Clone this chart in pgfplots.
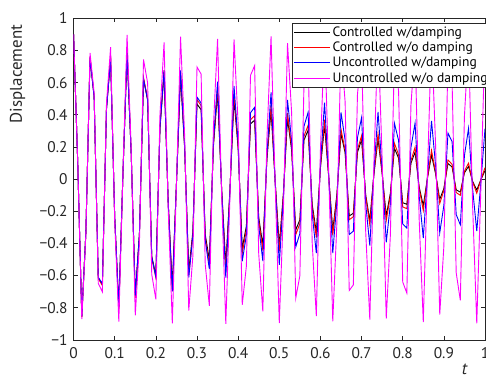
\documentclass[border=0pt]{standalone}
\usepackage{pgfplots}
\pgfplotsset{compat=1.18}
\usepackage{pgfplotstable}
\usepackage{fontspec}
\setmainfont{PT Sans}
\definecolor{axgray}{rgb}{0.15,0.15,0.15}
\definecolor{mag}{rgb}{1,0,1}
\definecolor{pred}{rgb}{1,0,0}
\definecolor{pblue}{rgb}{0,0,1}
\pgfplotstableread{
t M B R K
0.00 0.900 0.900 0.900 0.900
0.01 0.114 0.113 0.114 0.113
0.02 -0.871 -0.853 -0.857 -0.855
0.03 -0.336 -0.326 -0.328 -0.327
0.04 0.785 0.753 0.760 0.757
0.05 0.536 0.509 0.514 0.512
0.06 -0.649 -0.610 -0.618 -0.614
0.07 -0.701 -0.652 -0.662 -0.657
0.08 0.471 0.433 0.441 0.437
0.09 0.821 0.747 0.761 0.754
0.10 -0.262 -0.236 -0.241 -0.238
0.11 -0.887 -0.791 -0.808 -0.798
0.12 0.036 0.032 0.032 0.032
0.13 0.897 0.783 0.798 0.786
0.14 0.192 0.166 0.169 0.166
0.15 -0.848 -0.725 -0.738 -0.725
0.16 -0.408 -0.345 -0.351 -0.344
0.17 0.744 0.623 0.632 0.620
0.18 0.597 0.495 0.501 0.491
0.19 -0.592 -0.486 -0.492 -0.480
0.20 -0.748 -0.607 -0.613 -0.598
0.21 0.402 0.323 0.325 0.316
0.22 0.850 0.676 0.678 0.658
0.23 -0.186 -0.146 -0.146 -0.141
0.24 -0.897 -0.699 -0.696 -0.671
0.25 -0.042 -0.033 -0.032 -0.031
0.26 0.886 0.676 0.669 0.640
0.27 0.268 0.202 0.199 0.190
0.28 -0.818 -0.612 -0.599 -0.569
0.29 -0.476 -0.352 -0.343 -0.325
0.30 0.697 0.510 0.495 0.467
0.31 0.653 0.473 0.457 0.431
0.32 -0.531 -0.381 -0.365 -0.344
0.33 -0.788 -0.559 -0.533 -0.502
0.34 0.330 0.232 0.220 0.207
0.35 0.872 0.606 0.572 0.537
0.36 -0.108 -0.074 -0.070 -0.065
0.37 -0.900 -0.613 -0.570 -0.534
0.38 -0.121 -0.081 -0.075 -0.070
0.39 0.869 0.579 0.531 0.496
0.40 0.342 0.225 0.205 0.191
0.41 -0.782 -0.511 -0.462 -0.430
0.42 -0.541 -0.349 -0.314 -0.292
0.43 0.645 0.412 0.368 0.342
0.44 0.705 0.446 0.395 0.367
0.45 -0.465 -0.291 -0.256 -0.237
0.46 -0.823 -0.510 -0.445 -0.412
0.47 0.256 0.157 0.136 0.125
0.48 0.888 0.539 0.462 0.426
0.49 -0.030 -0.018 -0.015 -0.014
0.50 -0.896 -0.533 -0.448 -0.412
0.51 -0.198 -0.116 -0.097 -0.090
0.52 0.846 0.492 0.410 0.376
0.53 0.413 0.238 0.196 0.180
0.54 -0.741 -0.422 -0.346 -0.317
0.55 -0.601 -0.339 -0.277 -0.253
0.56 0.587 0.328 0.266 0.242
0.57 0.751 0.415 0.334 0.304
0.58 -0.397 -0.217 -0.173 -0.157
0.59 -0.852 -0.461 -0.364 -0.330
0.60 0.180 0.096 0.075 0.068
0.61 0.898 0.476 0.370 0.335
0.62 0.049 0.026 0.020 0.018
0.63 -0.885 -0.460 -0.350 -0.318
0.64 -0.274 -0.141 -0.106 -0.096
0.65 0.816 0.415 0.310 0.282
0.66 0.481 0.242 0.179 0.163
0.67 -0.693 -0.345 -0.253 -0.229
0.68 -0.658 -0.324 -0.234 -0.213
0.69 0.526 0.257 0.183 0.166
0.70 0.791 0.382 0.269 0.245
0.71 -0.324 -0.155 -0.108 -0.098
0.72 -0.874 -0.413 -0.285 -0.257
0.73 0.102 0.048 0.033 0.029
0.74 0.900 0.417 0.281 0.250
0.75 0.127 0.058 0.039 0.034
0.76 -0.868 -0.394 -0.258 -0.228
0.77 -0.348 -0.156 -0.101 -0.088
0.78 0.779 0.346 0.222 0.191
0.79 0.546 0.240 0.151 0.130
0.80 -0.640 -0.279 -0.173 -0.147
0.81 -0.709 -0.305 -0.184 -0.157
0.82 0.460 0.196 0.115 0.098
0.83 0.826 0.348 0.198 0.168
0.84 -0.250 -0.104 -0.058 -0.049
0.85 -0.889 -0.367 -0.196 -0.165
0.86 0.024 0.010 0.005 0.004
0.87 0.895 0.362 0.179 0.149
0.88 0.204 0.082 0.039 0.032
0.89 -0.843 -0.334 -0.152 -0.126
0.90 -0.419 -0.164 -0.071 -0.059
0.91 0.737 0.286 0.119 0.097
0.92 0.606 0.233 0.092 0.075
0.93 -0.583 -0.221 -0.084 -0.067
0.94 -0.754 -0.284 -0.101 -0.081
0.95 0.391 0.146 0.049 0.039
0.96 0.854 0.315 0.099 0.079
0.97 -0.174 -0.063 -0.019 -0.015
0.98 -0.898 -0.324 -0.088 -0.068
0.99 -0.055 -0.020 -0.005 -0.004
1.00 0.884 0.313 0.071 0.053
}\data
\begin{document}
\begin{tikzpicture}
\begin{axis}[
  scale only axis, width=411.6bp, height=321.7bp,
  xmin=0, xmax=1, ymin=-1, ymax=1,
  xtick={0,0.1,0.2,0.3,0.4,0.5,0.6,0.7,0.8,0.9,1},
  xticklabels={0,0.1,0.2,0.3,0.4,0.5,0.6,0.7,0.8,0.9,1},
  ytick={-1,-0.8,-0.6,-0.4,-0.2,0,0.2,0.4,0.6,0.8,1},
  yticklabels={−1,−0.8,−0.6,−0.4,−0.2,0,0.2,0.4,0.6,0.8,1},
  xtick pos=both, ytick pos=both,
  xticklabel pos=bottom, yticklabel pos=left,
  tick align=inside, major tick length=4bp,
  axis line style={axgray, line width=0.6bp},
  tick style={axgray, line width=0.6bp},
  tick label style={font=\fontsize{15.5}{18}\selectfont, text=axgray},
  yticklabel style={xshift=-2.5bp},
  xticklabel style={yshift=-4bp},
  ylabel={Displacement},
  ylabel style={font=\fontsize{17}{20}\selectfont, text=axgray, at={(axis description cs:-0.1363,0.827)}, anchor=center, rotate=0},
  xlabel={\textit{t}},
  xlabel style={font=\fontsize{17}{20}\selectfont, text=axgray, at={(axis description cs:0.951,-0.0917)}, anchor=center, inner sep=0pt},
  legend style={at={(rel axis cs:0.5306,1)}, anchor=north west, yshift=-5bp,
    draw=axgray, line width=0.6bp, fill=white, font=\fontsize{13.6}{15.5}\selectfont,
    inner sep=1.5bp, row sep=0bp},
  legend cell align=left,
  legend image code/.code={\draw[#1, line width=0.9bp] (0bp,0bp) -- (36bp,0bp);},
  every axis plot/.append style={line width=0.9bp},
]
\addplot[black] table[x=t,y=K] {\data};
\addlegendentry{Controlled w/damping}
\addplot[pred] table[x=t,y=R] {\data};
\addlegendentry{Controlled w/o damping}
\addplot[pblue] table[x=t,y=B] {\data};
\addlegendentry{Uncontrolled w/damping}
\addplot[mag] table[x=t,y=M] {\data};
\addlegendentry{Uncontrolled w/o damping}
\coordinate (sw) at (rel axis cs:0,0);
\coordinate (ne) at (rel axis cs:1,1);
\end{axis}
\pgfresetboundingbox
\path[use as bounding box] ([xshift=-73.6bp,yshift=-38bp]sw) rectangle ([xshift=1bp,yshift=18.3bp]ne);
\end{tikzpicture}
\end{document}
